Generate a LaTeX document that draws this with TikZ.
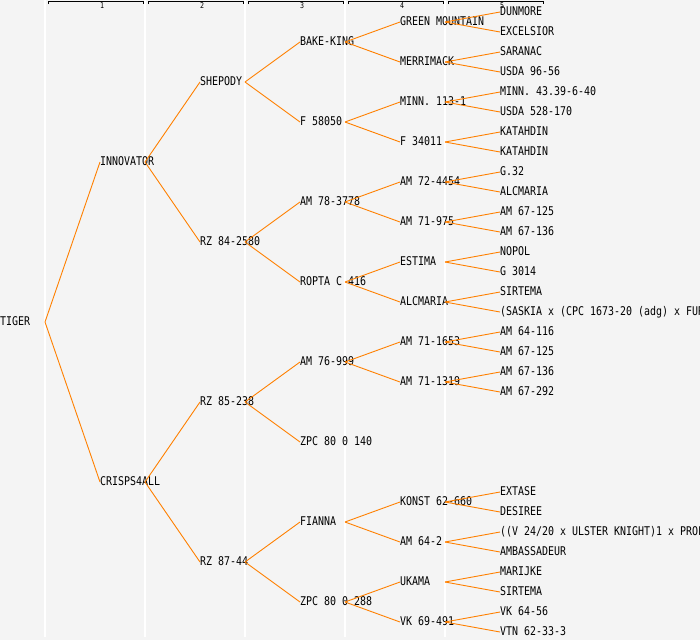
\documentclass[tikz,border=0pt]{standalone}
\usepackage{fontspec}
\newfontfamily\pedfont[FakeStretch=0.83]{DejaVu Sans Mono}
\definecolor{panel}{RGB}{244,244,244}
\definecolor{linkorange}{RGB}{255,128,0}
\tikzset{x=1pt, y=-1pt,
    plant/.style={
        anchor=west,
        inner sep=0pt,
        text height=8.5pt,
        text depth=1pt,
        font=\pedfont\fontsize{12}{12}\selectfont},
    gen/.style={
        inner sep=0pt,
        font=\pedfont\fontsize{8}{8}\selectfont},
    branch/.style={
        draw=linkorange,
        line width=0.9pt}}
% line from the fork of a parent to its child
\newcommand{\link}[2]{\draw[branch] ([xshift=45pt]#1.west) -- (#2.west);}

\begin{document}
\begin{tikzpicture}
        \fill[panel] (0,0) rectangle (700,640);
        \useasboundingbox (0,0) rectangle (700,640);
        \draw[white, line width=1.2pt] (45,0) -- (45,637) (145,0) -- (145,637)
            (245,0) -- (245,637) (345,0) -- (345,637) (445,0) -- (445,637);

        % generation brackets
        \draw[semithick] (48,4) -- (48,1) -- (143,1) -- (143,4);
        \node[gen] (g1) at (102,6) {1};
        \draw[semithick] (148,4) -- (148,1) -- (243,1) -- (243,4);
        \node[gen] (g2) at (202,6) {2};
        \draw[semithick] (248,4) -- (248,1) -- (343,1) -- (343,4);
        \node[gen] (g3) at (302,6) {3};
        \draw[semithick] (348,4) -- (348,1) -- (443,1) -- (443,4);
        \node[gen] (g4) at (402,6) {4};
        \draw[semithick] (448,4) -- (448,1) -- (543,1) -- (543,4);
        \node[gen] (g5) at (502,6) {5};

        \node[plant] (tiger) at (0,322) {TIGER};

        \node[plant] (innov) at (100,162) {INNOVATOR};
        \node[plant] (crisps) at (100,482) {CRISPS4ALL};

        \node[plant] (shep) at (200,82) {SHEPODY};
        \node[plant] (rza) at (200,242) {RZ 84-2580};
        \node[plant] (rzb) at (200,402) {RZ 85-238};
        \node[plant] (rzc) at (200,562) {RZ 87-44};

        \node[plant] (bake) at (300,42) {BAKE-KING};
        \node[plant] (f58) at (300,122) {F 58050};
        \node[plant] (am78) at (300,202) {AM 78-3778};
        \node[plant] (ropta) at (300,282) {ROPTA C 416};
        \node[plant] (am76) at (300,362) {AM 76-999};
        \node[plant] (zpca) at (300,442) {ZPC 80 0 140};
        \node[plant] (fianna) at (300,522) {FIANNA};
        \node[plant] (zpcb) at (300,602) {ZPC 80 0 288};

        \node[plant] (green) at (400,22) {GREEN MOUNTAIN};
        \node[plant] (merri) at (400,62) {MERRIMACK};
        \node[plant] (minn) at (400,102) {MINN. 113-1};
        \node[plant] (f34) at (400,142) {F 34011};
        \node[plant] (am72) at (400,182) {AM 72-4454};
        \node[plant] (am71a) at (400,222) {AM 71-975};
        \node[plant] (estima) at (400,262) {ESTIMA};
        \node[plant] (alcm) at (400,302) {ALCMARIA};
        \node[plant] (am71b) at (400,342) {AM 71-1653};
        \node[plant] (am71c) at (400,382) {AM 71-1319};
        \node[plant] (konst) at (400,502) {KONST 62-660};
        \node[plant] (am64) at (400,542) {AM 64-2};
        \node[plant] (ukama) at (400,582) {UKAMA};
        \node[plant] (vk69) at (400,622) {VK 69-491};

        \node[plant] (dun) at (500,12) {DUNMORE};
        \node[plant] (excel) at (500,32) {EXCELSIOR};
        \node[plant] (sara) at (500,52) {SARANAC};
        \node[plant] (usdaa) at (500,72) {USDA 96-56};
        \node[plant] (minnb) at (500,92) {MINN. 43.39-6-40};
        \node[plant] (usdab) at (500,112) {USDA 528-170};
        \node[plant] (kata) at (500,132) {KATAHDIN};
        \node[plant] (katb) at (500,152) {KATAHDIN};
        \node[plant] (g32) at (500,172) {G.32};
        \node[plant] (alcmb) at (500,192) {ALCMARIA};
        \node[plant] (am67a) at (500,212) {AM 67-125};
        \node[plant] (am67b) at (500,232) {AM 67-136};
        \node[plant] (nopol) at (500,252) {NOPOL};
        \node[plant] (g3014) at (500,272) {G 3014};
        \node[plant] (sirta) at (500,292) {SIRTEMA};
        \node[plant] (saskia) at (500,312) {(SASKIA x (CPC 1673-20 (adg) x FUR};
        \node[plant] (am64b) at (500,332) {AM 64-116};
        \node[plant] (am67c) at (500,352) {AM 67-125};
        \node[plant] (am67d) at (500,372) {AM 67-136};
        \node[plant] (am67e) at (500,392) {AM 67-292};
        \node[plant] (extase) at (500,492) {EXTASE};
        \node[plant] (desiree) at (500,512) {DESIREE};
        \node[plant] (vcross) at (500,532) {((V 24/20 x ULSTER KNIGHT)1 x PROF};
        \node[plant] (ambas) at (500,552) {AMBASSADEUR};
        \node[plant] (marijke) at (500,572) {MARIJKE};
        \node[plant] (sirtb) at (500,592) {SIRTEMA};
        \node[plant] (vk64) at (500,612) {VK 64-56};
        \node[plant] (vtn) at (500,632) {VTN 62-33-3};

        \link{tiger}{innov} \link{tiger}{crisps}
        \link{innov}{shep} \link{innov}{rza}
        \link{crisps}{rzb} \link{crisps}{rzc}
        \link{shep}{bake} \link{shep}{f58}
        \link{rza}{am78} \link{rza}{ropta}
        \link{rzb}{am76} \link{rzb}{zpca}
        \link{rzc}{fianna} \link{rzc}{zpcb}
        \link{bake}{green} \link{bake}{merri}
        \link{f58}{minn} \link{f58}{f34}
        \link{am78}{am72} \link{am78}{am71a}
        \link{ropta}{estima} \link{ropta}{alcm}
        \link{am76}{am71b} \link{am76}{am71c}
        \link{fianna}{konst} \link{fianna}{am64}
        \link{zpcb}{ukama} \link{zpcb}{vk69}
        \link{green}{dun} \link{green}{excel}
        \link{merri}{sara} \link{merri}{usdaa}
        \link{minn}{minnb} \link{minn}{usdab}
        \link{f34}{kata} \link{f34}{katb}
        \link{am72}{g32} \link{am72}{alcmb}
        \link{am71a}{am67a} \link{am71a}{am67b}
        \link{estima}{nopol} \link{estima}{g3014}
        \link{alcm}{sirta} \link{alcm}{saskia}
        \link{am71b}{am64b} \link{am71b}{am67c}
        \link{am71c}{am67d} \link{am71c}{am67e}
        \link{konst}{extase} \link{konst}{desiree}
        \link{am64}{vcross} \link{am64}{ambas}
        \link{ukama}{marijke} \link{ukama}{sirtb}
        \link{vk69}{vk64} \link{vk69}{vtn}
    \end{tikzpicture}
\end{document}
